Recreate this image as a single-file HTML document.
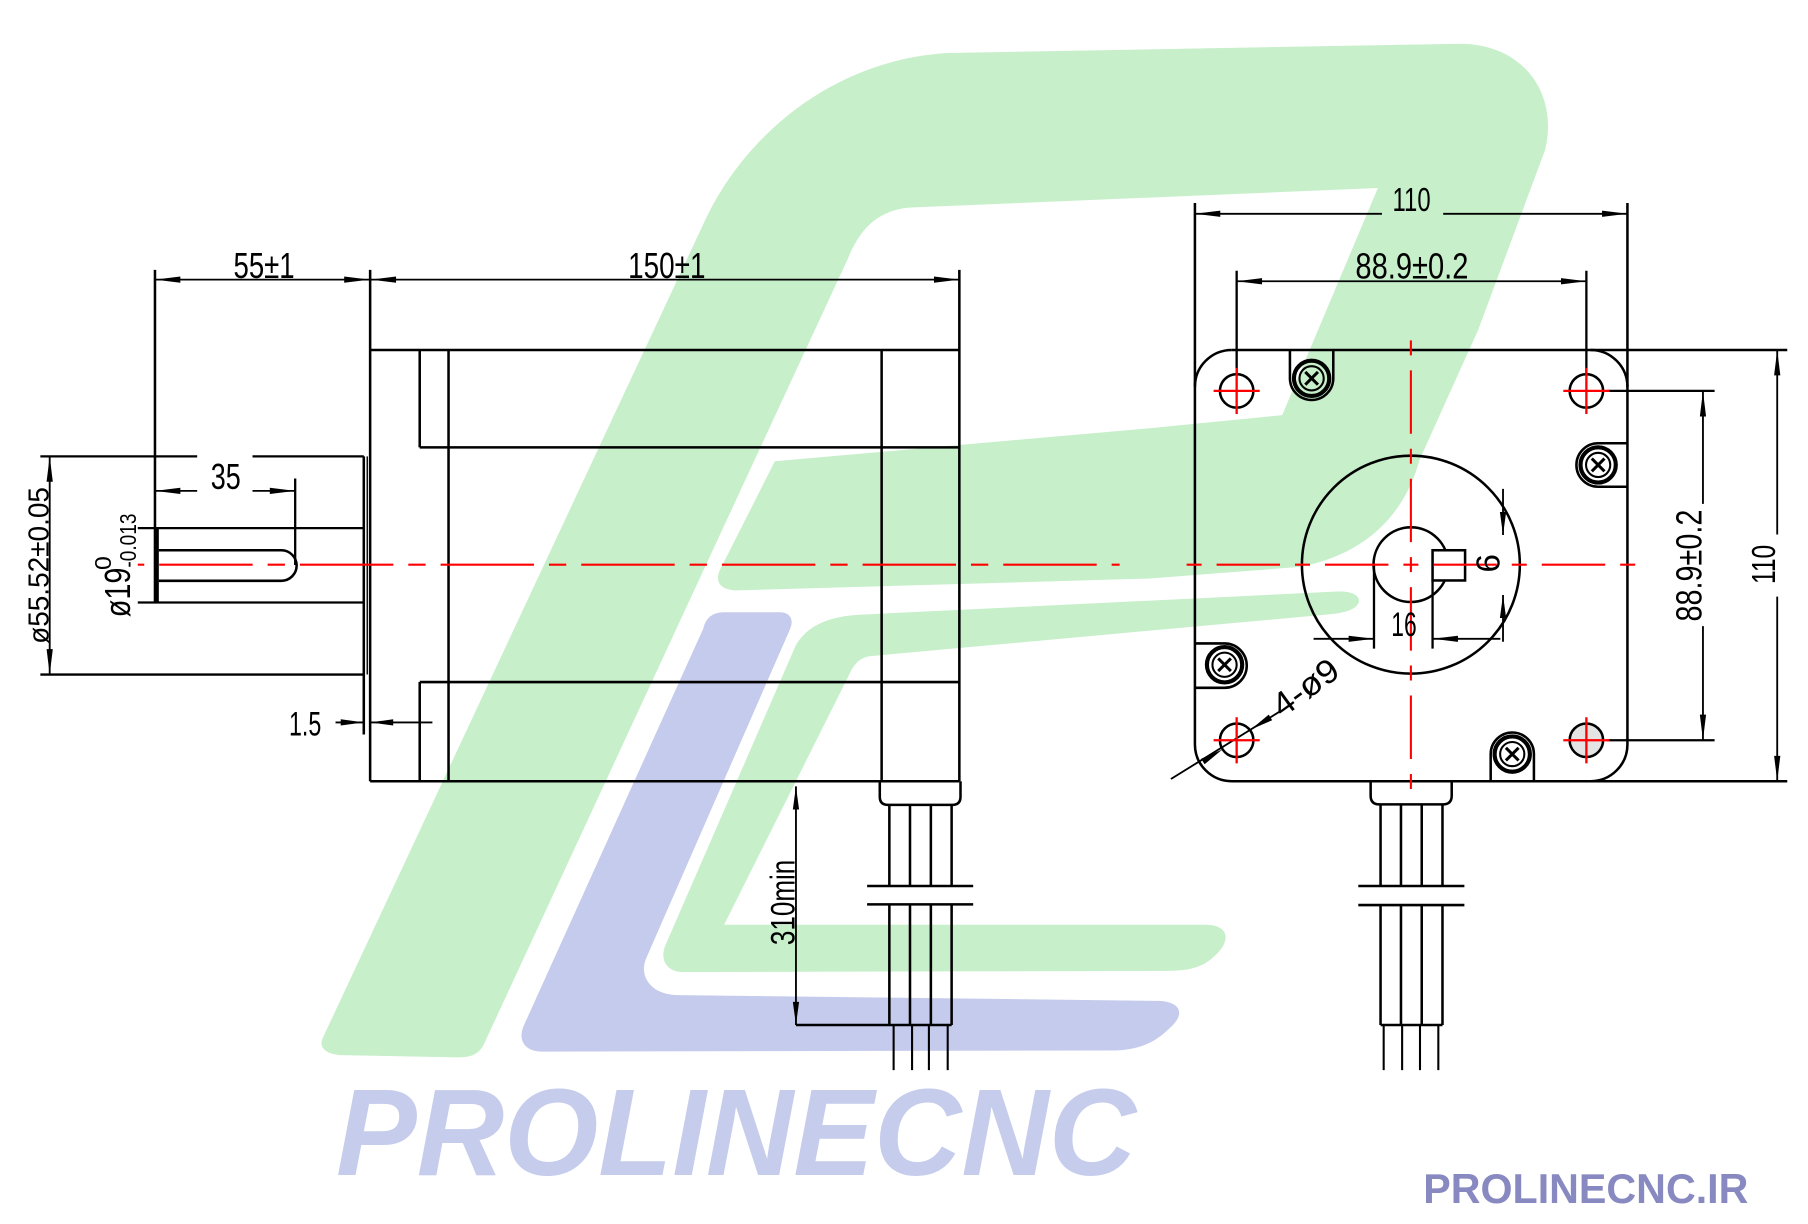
<!DOCTYPE html>
<html><head><meta charset="utf-8"><style>
html,body{margin:0;padding:0;background:#fff;}
svg{display:block;}
</style></head><body>
<svg xmlns="http://www.w3.org/2000/svg" width="1808" height="1224" viewBox="0 0 1568 1061.5" preserveAspectRatio="none" font-family="'Liberation Sans', sans-serif">
<rect x="0" y="0" width="1568" height="1061.5" fill="#fff"/>

<!-- ===== LOGO ===== -->
<path fill="#c6efca" d="M280,900 L612,190 C645,120 720,52 822,46 L1262,38 C1320,36 1352,80 1340,130 L1282,286 L1231,399 C1220,440 1190,480 1127,491.6 L997,501.7 L640,512 C625,512 620,505 624,495 L672,400 L997,371.4 L1112,360 L1195,163 L790,180 C760,182 745,200 735,225 L419,907 C414,915 408,917 395,917 L295,915 C282,914 276,908 280,900 Z"/>
<path fill="#c6efca" d="M748,533 L1160,513 C1180,512 1183,523 1173,528 C1167,531 1161,532 1150,533 L755,569 C745,570 740,577 736,586 L628,802 L1045,802 C1068,802 1068,818 1050,832 C1040,840 1028,842 1010,842 L592,843 C578,843 572,832 577,820 L690,560 C700,542 720,534 748,533 Z"/>
<path fill="#c5cbec" d="M610,545 C612,536 618,531 628,531 L676,531 C685,531 689,537 685,546 L560,832 C554,848 566,863 588,863 L1005,868 C1025,869 1028,880 1014,892 C1003,903 990,910 968,911 L470,912 C455,912 449,902 454,890 Z"/>
<text x="291.4" y="1019" font-size="107" font-weight="bold" font-style="italic" fill="#c5ccec" textLength="694" lengthAdjust="spacingAndGlyphs">PROLINECNC</text>
<text x="1234.3" y="1043.5" font-size="36" font-weight="bold" fill="#8789c0" textLength="282" lengthAdjust="spacingAndGlyphs">PROLINECNC.IR</text>

<!-- ===== LEFT VIEW ===== -->
<g stroke="#000" stroke-width="2.2" fill="none">
  <path d="M134.4,242.5 H832" stroke-width="1.6"/>
  <path d="M134.4,234 V522.5"/>
  <path d="M321,234 V677.5"/>
  <path d="M832,234 V677.5"/>
  <path d="M321,303.5 H832 M321,677.5 H832"/>
  <path d="M364,303.5 V388 M364,591.5 V677.5 M389,303.5 V677.5"/>
  <path d="M364,388 H832 M364,591.5 H832"/>
  <path d="M764.6,303.5 V677.5"/>
  <path d="M35,395.8 H171 M219,395.8 H315.5 M35,585 H315.5" stroke-width="2"/>
  <path d="M315.5,395.8 V637"/>
  <path d="M318.5,395.8 V585" stroke-width="1.2"/>
  <path d="M119.5,458 H315.5 M119.5,522.5 H315.5" stroke-width="2"/>
  <path d="M136,458 V522.5" stroke-width="3.5"/>
  <path d="M137.7,477.2 L244,477.2 A13.25,13.25 0 0 1 244,503.7 L137.7,503.7"/>
  <path d="M256,415 V490" stroke-width="2"/>
  <path d="M134.4,425.7 H171 M219,425.7 H256" stroke-width="1.6"/>
  <path d="M43.1,395.8 V585" stroke-width="1.6"/>
  <path d="M291,626.5 H315.5 M321,626.5 H375" stroke-width="1.6"/>
  <path d="M763,677.5 V691 Q763,698 770,698 H826 Q833,698 833,691 V677.5"/>
  <path d="M771.3,698 V768.4 M789.2,698 V768.4 M807.3,698 V768.4 M825.3,698 V768.4"/>
  <path d="M771.3,784.3 V888.9 M789.2,784.3 V888.9 M807.3,784.3 V888.9 M825.3,784.3 V888.9"/>
  <path d="M752,768.4 H844 M752,784.3 H844"/>
  <path d="M690.3,888.9 H825.3"/>
  <path d="M775,888.9 V928 M791,888.9 V928 M805.6,888.9 V928 M821.9,888.9 V928" stroke-width="1.8"/>
  <path d="M690.3,682 V888.9" stroke-width="1.6"/>
</g>
<g fill="#000">
  <polygon points="134.4,242.5 156.4,239.8 156.4,245.2"/>
  <polygon points="320.5,242.5 298.5,239.8 298.5,245.2"/>
  <polygon points="321.5,242.5 343.5,239.8 343.5,245.2"/>
  <polygon points="832,242.5 810,239.8 810,245.2"/>
  <polygon points="134.4,425.7 156.4,423 156.4,428.4"/>
  <polygon points="256,425.7 234,423 234,428.4"/>
  <polygon points="43.1,395.8 40.4,417.8 45.8,417.8"/>
  <polygon points="43.1,585 40.4,563 45.8,563"/>
  <polygon points="315.5,626.5 295.5,623.8 295.5,629.2"/>
  <polygon points="321,626.5 341,623.8 341,629.2"/>
  <polygon points="690.3,682 687.6,702 693,702"/>
  <polygon points="690.3,888.9 687.6,868.9 693,868.9"/>
</g>
<path d="M119.5,489.7 H971" stroke="#ff0000" stroke-width="1.8" stroke-dasharray="81 13 15 13" stroke-dashoffset="103.4" fill="none"/>
<g fill="#000">
  <text x="229" y="241" font-size="31" text-anchor="middle" textLength="53" lengthAdjust="spacingAndGlyphs">55±1</text>
  <text x="578.3" y="241" font-size="31" text-anchor="middle" textLength="67" lengthAdjust="spacingAndGlyphs">150±1</text>
  <text x="195.8" y="424" font-size="31" text-anchor="middle" textLength="26" lengthAdjust="spacingAndGlyphs">35</text>
  <text transform="translate(42,490.4) rotate(-90)" font-size="25" text-anchor="middle" textLength="136" lengthAdjust="spacingAndGlyphs">ø55.52±0.05</text>
  <g transform="translate(112.8,535.3) rotate(-90)">
    <text x="0" y="0" font-size="31" textLength="43" lengthAdjust="spacingAndGlyphs">ø19</text>
    <text x="41" y="-16.6" font-size="20" textLength="12" lengthAdjust="spacingAndGlyphs">0</text>
    <text x="43" y="5" font-size="20" textLength="47" lengthAdjust="spacingAndGlyphs">-0.013</text>
  </g>
  <text x="250.6" y="638" font-size="30" textLength="28" lengthAdjust="spacingAndGlyphs">1.5</text>
  <text transform="translate(689,782.6) rotate(-90)" font-size="30" text-anchor="middle" textLength="74" lengthAdjust="spacingAndGlyphs">310min</text>
</g>

<!-- ===== FRONT VIEW ===== -->
<g stroke="#000" stroke-width="2.2" fill="none">
  <path d="M1036.3,176 V645.5 A32,32 0 0 0 1068.3,677.5 H1550"/>
  <path d="M1068.3,303.5 A32,32 0 0 0 1036.3,335.5"/>
  <path d="M1068.3,303.5 H1550"/>
  <path d="M1411.4,176 V645.5 A32,32 0 0 1 1379.4,677.5"/>
  <path d="M1379.4,303.5 A32,32 0 0 1 1411.4,335.5"/>
  <path d="M1036.3,185.4 H1198.5 M1251.6,185.4 H1411.4" stroke-width="1.6"/>
  <path d="M1072.5,243.9 H1375.8" stroke-width="1.6"/>
  <path d="M1072.5,234.8 V324.5 M1375.8,234.8 V324.5" stroke-width="2"/>
  <path d="M1541.3,303.5 V463.5 M1541.3,517.4 V677.5" stroke-width="1.6"/>
  <path d="M1476.9,339.2 V437 M1476.9,543 V641.8" stroke-width="1.6"/>
  <path d="M1394,339 H1487 M1394,642 H1487" stroke-width="2"/>
  <circle cx="1072.5" cy="339" r="14.5"/>
  <circle cx="1375.8" cy="339" r="14.5"/>
  <circle cx="1072.5" cy="642" r="14.5"/>
  <circle cx="1375.8" cy="642" r="14.5" fill="#e4e4e4"/>
  <path d="M1118.7,303.5 V328.1 A18.8,18.8 0 0 0 1156.3,328.1 V303.5"/>
  <path d="M1411.4,384.4 H1386 A18.85,18.85 0 0 0 1386,422.1 H1411.4"/>
  <path d="M1036.3,558 H1062 A19.25,19.25 0 0 1 1062,596.5 H1036.3"/>
  <path d="M1292.8,677.5 V654 A18.75,18.75 0 0 1 1330.3,654 V677.5"/>
  <circle cx="1223.6" cy="489.7" r="94.5"/>
  <circle cx="1223.6" cy="489.7" r="32.4"/>
  <rect x="1242.4" y="477.2" width="28.2" height="26.2" fill="#fff"/>
  <path d="M1191.6,489.7 V562.5 M1242.4,503.4 V562.5" stroke-width="2"/>
  <path d="M1139.2,554 H1191.6 M1242.4,554 H1301.2" stroke-width="1.6"/>
  <path d="M1303.5,424 V464 M1303.5,516 V556.5" stroke-width="1.6"/>
  <path d="M1015.5,675.6 L1110,617" stroke-width="1.6"/>
  <path d="M1188.7,677.5 V690 Q1188.7,697.6 1196,697.6 H1251.5 Q1259,697.6 1259,690 V677.5"/>
  <path d="M1197.3,697.6 V768.4 M1215,697.6 V768.4 M1233,697.6 V768.4 M1251,697.6 V768.4"/>
  <path d="M1197.3,784.9 V888.9 M1215,784.9 V888.9 M1233,784.9 V888.9 M1251,784.9 V888.9"/>
  <path d="M1178,768.4 H1270 M1178,784.9 H1270"/>
  <path d="M1197.3,888.9 H1251"/>
  <path d="M1200,888.9 V928 M1216,888.9 V928 M1231.5,888.9 V928 M1247.4,888.9 V928" stroke-width="1.8"/>
</g>
<!-- screws -->
<g stroke="#000" fill="none">
  <g transform="translate(1137.5,328.1)"><circle r="15.3" stroke-width="3.6"/><circle r="10.5" stroke-width="1.8"/><path d="M-5.5,-5.5 L5.5,5.5 M-5.5,5.5 L5.5,-5.5" stroke-width="2.6"/></g>
  <g transform="translate(1386,403.2)"><circle r="15.3" stroke-width="3.6"/><circle r="10.5" stroke-width="1.8"/><path d="M-5.5,-5.5 L5.5,5.5 M-5.5,5.5 L5.5,-5.5" stroke-width="2.6"/></g>
  <g transform="translate(1062,576.5)"><circle r="15.3" stroke-width="3.6"/><circle r="10.5" stroke-width="1.8"/><path d="M-5.5,-5.5 L5.5,5.5 M-5.5,5.5 L5.5,-5.5" stroke-width="2.6"/></g>
  <g transform="translate(1311.5,654)"><circle r="15.3" stroke-width="3.6"/><circle r="10.5" stroke-width="1.8"/><path d="M-5.5,-5.5 L5.5,5.5 M-5.5,5.5 L5.5,-5.5" stroke-width="2.6"/></g>
</g>
<g fill="#000">
  <polygon points="1036.3,185.4 1058.3,182.7 1058.3,188.1"/>
  <polygon points="1411.4,185.4 1389.4,182.7 1389.4,188.1"/>
  <polygon points="1072.5,243.9 1094.5,241.2 1094.5,246.6"/>
  <polygon points="1375.8,243.9 1353.8,241.2 1353.8,246.6"/>
  <polygon points="1541.3,303.5 1538.6,325.5 1544,325.5"/>
  <polygon points="1541.3,677.5 1538.6,655.5 1544,655.5"/>
  <polygon points="1476.9,339.2 1474.2,361.2 1479.6,361.2"/>
  <polygon points="1476.9,641.8 1474.2,619.8 1479.6,619.8"/>
  <polygon points="1191.6,554 1169.6,551.3 1169.6,556.7"/>
  <polygon points="1242.4,554 1264.4,551.3 1264.4,556.7"/>
  <polygon points="1303.5,464 1300.8,444 1306.2,444"/>
  <polygon points="1303.5,516 1300.8,536 1306.2,536"/>
  <polygon points="1084.8,632.7 1103.3,624.6 1100.3,619.8"/>
  <polygon points="1060.2,649.9 1044.7,662.8 1041.7,658"/>
</g>
<g stroke="#ff0000" stroke-width="1.8" fill="none">
  <path d="M1223.6,489.7 H1026.4 M1223.6,489.7 H1423 M1223.6,489.7 V292.7 M1223.6,489.7 V688" stroke-dasharray="6.5 13 55 13 6.5 0"/>
  <path d="M1052.5,339 H1092.5 M1072.5,319 V359 M1355.8,339 H1395.8 M1375.8,319 V359 M1052.5,642 H1092.5 M1072.5,622 V662 M1355.8,642 H1395.8 M1375.8,622 V662" stroke-width="2"/>
</g>
<g fill="#000">
  <text x="1224.2" y="183" font-size="29" text-anchor="middle" textLength="33" lengthAdjust="spacingAndGlyphs">110</text>
  <text x="1224.5" y="241.5" font-size="31" text-anchor="middle" textLength="98" lengthAdjust="spacingAndGlyphs">88.9±0.2</text>
  <text transform="translate(1539.5,489.5) rotate(-90)" font-size="29" text-anchor="middle" textLength="34" lengthAdjust="spacingAndGlyphs">110</text>
  <text transform="translate(1475.8,490.5) rotate(-90)" font-size="31" text-anchor="middle" textLength="97" lengthAdjust="spacingAndGlyphs">88.9±0.2</text>
  <text x="1217.6" y="551.5" font-size="30" text-anchor="middle" textLength="22" lengthAdjust="spacingAndGlyphs">16</text>
  <text transform="translate(1300.6,488.5) rotate(-90)" font-size="29" text-anchor="middle">6</text>
  <text transform="translate(1112,623) rotate(-36)" font-size="29" textLength="64" lengthAdjust="spacingAndGlyphs">4-ø9</text>
</g>
</svg>
</body></html>
